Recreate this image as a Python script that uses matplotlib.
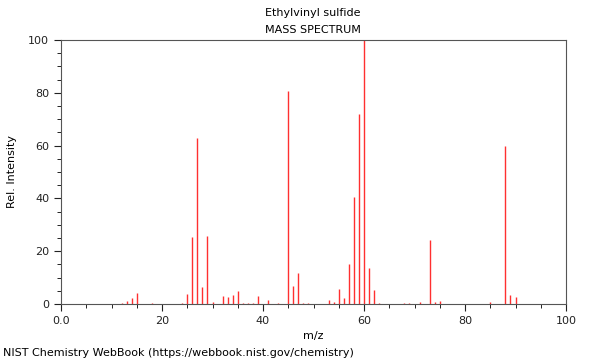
import numpy as np
import matplotlib
matplotlib.use('Agg')
import matplotlib.pyplot as plt
from matplotlib.ticker import MultipleLocator, FuncFormatter

# peak list
mz = [12, 13, 14, 15, 18, 24, 25, 26, 27, 28, 29, 30, 32, 33, 34, 35, 36, 37, 38, 39,
      41, 43, 45, 46, 47, 48, 49, 53, 54, 55, 56, 57, 58, 59, 60, 61, 62, 63,
      68, 69, 71, 73, 74, 75, 85, 88, 89, 90]
intensity = [0.5, 1.3, 2.4, 4.0, 0.5, 0.5, 3.8, 25.2, 63.0, 6.4, 25.8, 0.8, 2.9, 2.8, 3.4, 5.0, 0.4, 0.4, 0.5, 3.1,
             1.4, 0.4, 80.8, 6.9, 11.7, 0.5, 0.5, 1.6, 0.9, 5.6, 2.1, 15.2, 40.4, 72.0, 100.0, 13.6, 5.2, 0.4,
             0.3, 0.5, 0.8, 24.2, 0.9, 1.2, 0.8, 60.0, 3.5, 2.8]

fig = plt.figure(figsize=(6, 3.6), dpi=100)
ax = fig.add_axes([61/600, 56/360, 505/600, 264/360])

ax.vlines(mz, 0, intensity, colors='#ff3030', linewidth=1.0)

ax.set_xlim(0, 100)
ax.set_ylim(0, 100)
ax.xaxis.set_major_locator(MultipleLocator(20))
ax.xaxis.set_minor_locator(MultipleLocator(5))
ax.yaxis.set_major_locator(MultipleLocator(20))
ax.yaxis.set_minor_locator(MultipleLocator(5))
ax.xaxis.set_major_formatter(FuncFormatter(lambda v, p: '0.0' if v == 0 else '%d' % v))
ax.tick_params(labelsize=8, colors='#222222')
ax.tick_params(which='major', length=5)
ax.tick_params(which='minor', length=3)
for s in ax.spines.values():
    s.set_color('#555555')

ax.set_xlabel('m/z', fontsize=8)
ax.set_ylabel('Rel. Intensity', fontsize=8, labelpad=8)
fig.text(313/600, 1 - 13/360, 'Ethylvinyl sulfide', ha='center', va='center', fontsize=8)
fig.text(313/600, 1 - 30/360, 'MASS SPECTRUM', ha='center', va='center', fontsize=8)
fig.text(3/600, 1 - 353/360, 'NIST Chemistry WebBook (https://webbook.nist.gov/chemistry)',
         ha='left', va='center', fontsize=8)

fig.savefig('out.png', dpi=100)
